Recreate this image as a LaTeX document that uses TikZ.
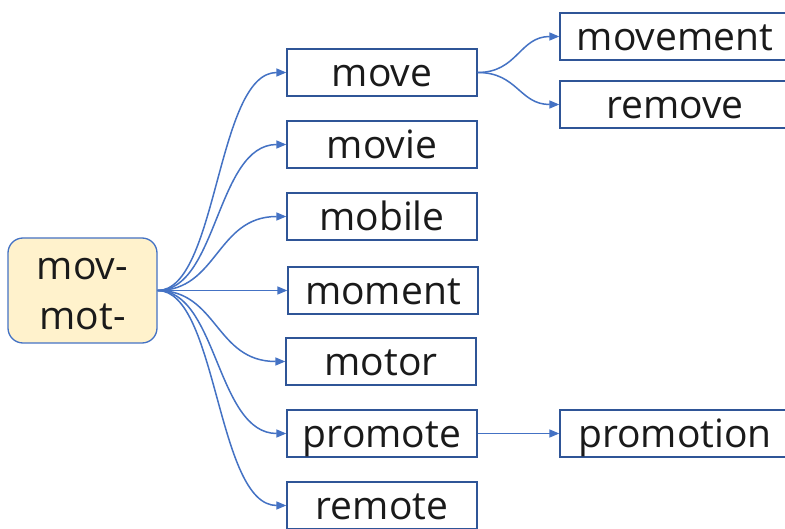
\documentclass[tikz,border=0pt]{standalone}
\usepackage{fontspec}
\setmainfont{Open Sans}
\usetikzlibrary{arrows.meta}
\definecolor{edgeblue}{HTML}{4472C4}
\definecolor{boxline}{HTML}{2F5597}
\definecolor{rootfill}{HTML}{FFF2CC}
\definecolor{ink}{HTML}{1A1A1A}
\begin{document}
\begin{tikzpicture}[x=1pt,y=-1pt,
  word/.style={draw=boxline, line width=1.3pt, fill=white, text=ink,
    minimum width=190pt, minimum height=47pt, inner sep=0pt,
    text height=30pt, text depth=2pt, font=\fontsize{39}{47}\selectfont},
  wide/.style={word, minimum width=230pt},
  rootbox/.style={draw=edgeblue, line width=1.3pt, fill=rootfill, text=ink,
    rounded corners=15pt, minimum width=149pt, minimum height=105pt,
    inner sep=0pt, align=center, font=\fontsize{39}{50}\selectfont},
  link/.style={draw=edgeblue, line width=1.5pt, -{Triangle[length=10pt,width=8pt]}},
]
\useasboundingbox (0,0) rectangle (785,529);
\clip (0,0) rectangle (785,529);
\fill[white] (0,0) rectangle (785,529);

\node[rootbox] (root) at (82.5,290.5) {\rule{0pt}{29pt}mov-\\mot-};

\node[word] (move)    at (382,72.5)  {move};
\node[word] (movie)   at (382,144.5) {movie};
\node[word] (mobile)  at (382,216.5) {mobile};
\node[word] (moment)  at (383,290.5) {moment};
\node[word] (motor)   at (381,361.5) {motor};
\node[word] (promote) at (382,433.5) {promote};
\node[word] (remote)  at (382,505.5) {remote};

\node[wide] (movement)  at (675,36.5)  {movement};
\node[wide] (remove)    at (675,104.5) {remove};
\node[wide] (promotion) at (675,433.5) {promotion};

\foreach \t in {move,movie,mobile,moment,motor,promote,remote}
  \draw[link] (root.east) .. controls +(60,0) and +(-70,0) .. (\t.west);

\draw[link] (move.east) .. controls +(40,0) and +(-40,0) .. (movement.west);
\draw[link] (move.east) .. controls +(40,0) and +(-40,0) .. (remove.west);
\draw[link] (promote.east) -- (promotion.west);
\end{tikzpicture}
\end{document}
